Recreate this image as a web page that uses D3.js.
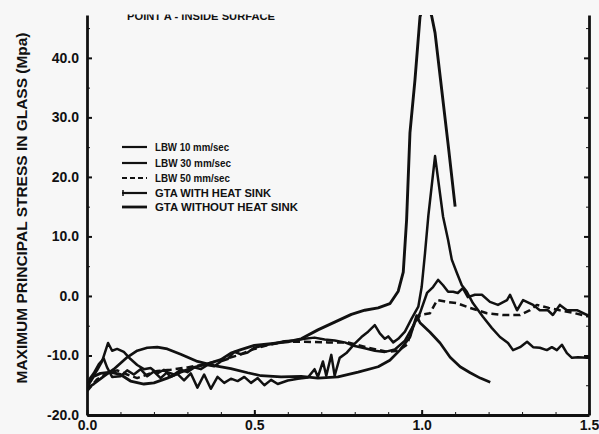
<!DOCTYPE html>
<html>
<head>
<meta charset="utf-8">
<script src="https://cdn.jsdelivr.net/npm/d3@7"></script>
<style>
  body { margin: 0; background: #f7f7f7; }
  svg { display: block; font-family: "Liberation Sans", Arial, sans-serif; }
  .axis path, .axis line { stroke: #111; }
  .axis text { font-weight: bold; font-size: 14px; fill: #111; }
</style>
</head>
<body>
<div id="chart"></div>
<script>
// legend labels
const seriesNames = ["LBW 10 mm/sec", "LBW 30 mm/sec", "LBW 50 mm/sec", "GTA WITH HEAT SINK", "GTA WITHOUT HEAT SINK"];

const xTicks = [0, 0.5, 1.0, 1.5];
const yTicks = [-20, -10, 0, 10, 20, 30, 40];

// [distance, stress] pairs
const lbw10 = [[0,-15.5],[0.02,-14.8],[0.05,-13.5],[0.08,-12.3],[0.12,-10.3],[0.15,-9.2],[0.18,-8.7],[0.21,-8.6],
  [0.24,-8.9],[0.28,-9.8],[0.33,-11.0],[0.38,-11.7],[0.43,-12.2],[0.48,-12.9],[0.52,-13.4],[0.58,-13.6],[0.64,-13.5],
  [0.69,-13.8],[0.75,-13.6],[0.81,-12.8],[0.87,-11.9],[0.905,-10.8],[0.935,-9.1],[0.965,-6.9],[0.985,-3.3],
  [0.995,-4.5],[1.025,-6.1],[1.055,-7.9],[1.085,-10.3],[1.115,-11.9],[1.145,-12.9],[1.175,-13.8],[1.205,-14.5]];

const lbw30 = [[0,-14.5],[0.02,-13],[0.035,-11.5],[0.05,-10.5],[0.06,-12],[0.075,-13.6],[0.1,-13.5],[0.12,-12.5],
  [0.14,-13.2],[0.16,-12.3],[0.18,-13.5],[0.2,-12.7],[0.22,-13.8],[0.24,-12.8],[0.26,-13.2],[0.28,-12.4],[0.3,-12.8],
  [0.32,-12],[0.34,-12.3],[0.36,-11.6],[0.38,-11.8],[0.4,-11],[0.42,-10.6],[0.44,-9.4],[0.46,-9.8],[0.48,-9.5],
  [0.5,-8.7],[0.53,-8.3],[0.56,-8.0],[0.59,-7.6],[0.62,-7.5],[0.65,-7.2],[0.68,-7.0],[0.71,-7.3],[0.74,-7.5],
  [0.77,-7.8],[0.8,-8.4],[0.83,-8.8],[0.86,-9.2],[0.89,-9.4],[0.92,-9.0],[0.95,-7.5],[0.97,-5.5],[0.995,-2.9],
  [1.016,0.5],[1.034,1.5],[1.049,2.7],[1.064,1.8],[1.079,0.7],[1.094,0.7],[1.108,0.5],[1.123,1.3],[1.138,-0.2],
  [1.159,0.2],[1.18,0.2],[1.204,-1.0],[1.228,-1.5],[1.255,-0.7],[1.264,0.2],[1.285,-2.4],[1.303,-0.7],[1.333,-1.5],
  [1.353,-2.4],[1.377,-2.4],[1.392,-3.2],[1.413,-1.5],[1.434,-2.4],[1.464,-2.4],[1.494,-3.2],[1.5,-3.2]];

const lbw50 = [[0,-16],[0.03,-14],[0.06,-13],[0.09,-12.5],[0.12,-13.2],[0.15,-13.8],[0.18,-13.2],[0.21,-12.6],
  [0.25,-12.4],[0.3,-12.0],[0.35,-11.5],[0.4,-10.8],[0.45,-10.0],[0.49,-9.1],[0.53,-8.4],[0.59,-7.7],[0.65,-7.7],
  [0.72,-7.8],[0.78,-7.8],[0.84,-8.7],[0.9,-9.4],[0.93,-9.2],[0.956,-8.2],[0.974,-5.2],[0.995,-3.2],[1.025,-2.9],
  [1.046,-0.7],[1.076,-1.0],[1.105,-1.2],[1.144,-2.0],[1.195,-2.9],[1.243,-3.2],[1.294,-3.2],[1.324,-2.4],
  [1.344,-1.5],[1.38,-2.0],[1.413,-2.4],[1.45,-2.8],[1.494,-3.4],[1.5,-3.4]];

const gtaWith = [[0,-15.2],[0.015,-13.8],[0.03,-12.5],[0.045,-11],[0.063,-7.9],[0.075,-9.2],[0.09,-8.9],[0.11,-9.4],
  [0.13,-10.6],[0.15,-11.6],[0.17,-12.3],[0.19,-12.1],[0.21,-13],[0.23,-12.4],[0.25,-13.6],[0.27,-13.1],[0.29,-14.2],
  [0.31,-13.0],[0.33,-15.4],[0.35,-13.2],[0.37,-15.6],[0.39,-13.6],[0.41,-14.6],[0.43,-13.9],[0.45,-14.3],
  [0.47,-13.6],[0.49,-14.6],[0.51,-13.8],[0.53,-15.0],[0.55,-14.1],[0.57,-14.8],[0.6,-14.2],[0.63,-13.9],
  [0.66,-13.7],[0.68,-12.3],[0.69,-13.6],[0.705,-11.0],[0.715,-13.4],[0.73,-9.9],[0.74,-13.4],[0.755,-10.4],
  [0.775,-9.6],[0.8,-8.0],[0.82,-6.9],[0.84,-6.0],[0.86,-4.9],[0.875,-6.3],[0.89,-7.2],[0.9,-6.8],[0.915,-7.8],
  [0.93,-7.2],[0.95,-6.0],[0.97,-3.8],[0.99,-1.8],[1.0,1.5],[1.01,7.2],[1.02,13.5],[1.04,23.5],[1.064,13.3],
  [1.079,9.4],[1.09,6.1],[1.105,3.9],[1.12,1.8],[1.135,0.7],[1.153,-1.2],[1.183,-3.5],[1.21,-5.4],[1.234,-6.9],
  [1.258,-7.9],[1.273,-9.1],[1.294,-8.6],[1.315,-7.7],[1.333,-8.6],[1.353,-8.7],[1.374,-9.1],[1.389,-8.6],
  [1.404,-9.1],[1.419,-8.2],[1.434,-9.6],[1.449,-10.4],[1.467,-10.3],[1.494,-10.4],[1.5,-10.4]];

const gtaWithout = [[0,-15.3],[0.02,-13.5],[0.04,-13],[0.07,-12.8],[0.1,-13.2],[0.13,-14.3],[0.17,-14.8],[0.2,-14.6],
  [0.24,-13.8],[0.28,-12.8],[0.32,-12],[0.36,-11.4],[0.4,-10.7],[0.43,-9.6],[0.46,-9],[0.5,-8.3],[0.55,-8],
  [0.6,-7.7],[0.64,-7.2],[0.69,-5.7],[0.74,-4.4],[0.79,-3.1],[0.83,-2.4],[0.87,-2.0],[0.905,-1.3],[0.93,0.8],
  [0.945,4],[0.955,12.8],[0.965,27.4],[0.98,36.3],[0.995,46.9],[1.013,50],[1.03,47],[1.04,44.2],[1.06,34.6],
  [1.08,25],[1.10,15]];

const width = 599, height = 434;
const margin = {top: 15, right: 10, bottom: 19, left: 87};

const svg = d3.select("#chart").append("svg")
  .attr("width", width)
  .attr("height", height);

const x = d3.scaleLinear().domain([0, 1.5]).range([margin.left, width - margin.right]);
const y = d3.scaleLinear().domain([-20, 47.2]).range([height - margin.bottom, margin.top]);

svg.append("clipPath").attr("id", "plot")
  .append("rect")
  .attr("x", margin.left).attr("y", margin.top)
  .attr("width", x(1.5) - x(0)).attr("height", y(-20) - y(47.2));

// title, top half cut off in the scan
svg.append("clipPath").attr("id", "titleClip")
  .append("rect").attr("x", 0).attr("y", 14.5).attr("width", width).attr("height", 20);
svg.append("text")
  .attr("clip-path", "url(#titleClip)")
  .attr("x", 127).attr("y", 19.5)
  .attr("textLength", 148).attr("lengthAdjust", "spacingAndGlyphs")
  .style("font-size", "10px").style("font-weight", "bold").attr("fill", "#111")
  .text("POINT A - INSIDE SURFACE");

// axes
const fmt = d => d.toFixed(1);
svg.append("g").attr("class", "axis")
  .attr("transform", `translate(${margin.left},0)`)
  .call(d3.axisLeft(y).tickValues(yTicks).tickFormat(fmt).tickSize(-5).tickSizeOuter(0).tickPadding(8))
  .call(g => g.select(".domain").attr("stroke-width", 2.8))
  .call(g => g.selectAll(".tick line").attr("stroke-width", 2));
svg.append("g").attr("class", "axis")
  .attr("transform", `translate(${margin.left},0)`)
  .call(d3.axisLeft(y).tickValues(d3.range(-15, 46, 10)).tickFormat("").tickSize(-3).tickSizeOuter(0))
  .call(g => g.select(".domain").remove());

svg.append("g").attr("class", "axis")
  .attr("transform", `translate(${x(1.5)},0)`)
  .call(d3.axisRight(y).tickValues(yTicks).tickFormat("").tickSize(-5).tickSizeOuter(0))
  .call(g => g.select(".domain").attr("stroke-width", 2.8))
  .call(g => g.selectAll(".tick line").attr("stroke-width", 2));
svg.append("g").attr("class", "axis")
  .attr("transform", `translate(${x(1.5)},0)`)
  .call(d3.axisRight(y).tickValues(d3.range(-15, 46, 10)).tickFormat("").tickSize(-3).tickSizeOuter(0))
  .call(g => g.select(".domain").remove());

svg.append("g").attr("class", "axis")
  .attr("transform", `translate(0,${y(-20)})`)
  .call(d3.axisBottom(x).tickValues(xTicks).tickFormat(fmt).tickSize(-5).tickSizeOuter(0).tickPadding(5))
  .call(g => g.select(".domain").attr("stroke-width", 2.8))
  .call(g => g.selectAll(".tick line").attr("stroke-width", 2));
svg.append("g").attr("class", "axis")
  .attr("transform", `translate(0,${y(-20)})`)
  .call(d3.axisBottom(x).tickValues(d3.range(0.1, 1.5, 0.1)).tickFormat("").tickSize(-3).tickSizeOuter(0))
  .call(g => g.select(".domain").remove());

// y axis title
svg.append("text")
  .attr("transform", `translate(27,${208}) rotate(-90)`)
  .attr("text-anchor", "middle")
  .attr("textLength", 351).attr("lengthAdjust", "spacingAndGlyphs")
  .style("font-size", "15px").style("font-weight", "bold").attr("fill", "#111")
  .text("MAXIMUM PRINCIPAL STRESS IN GLASS (Mpa)");

// curves
const line = d3.line().x(d => x(d[0])).y(d => y(d[1]));
const series = [
  {data: lbw10, dash: null, w: 2.7},
  {data: lbw30, dash: null, w: 2.5},
  {data: lbw50, dash: "7,4", w: 2.5},
  {data: gtaWith, dash: null, w: 2.5},
  {data: gtaWithout, dash: null, w: 2.9}
];

svg.append("g").attr("clip-path", "url(#plot)")
  .selectAll("path")
  .data(series)
  .join("path")
  .attr("d", d => line(d.data))
  .attr("fill", "none")
  .attr("stroke", "#111")
  .attr("stroke-width", d => d.w)
  .attr("stroke-linejoin", "round")
  .attr("stroke-dasharray", d => d.dash);

// legend
const legend = svg.append("g").attr("transform", "translate(122,147)");
const rows = legend.selectAll("g")
  .data(seriesNames)
  .join("g")
  .attr("transform", (d, i) => `translate(0,${[0, 16, 31, 46, 60][i]})`);
rows.append("line")
  .attr("x1", 0).attr("x2", 25)
  .attr("stroke", "#111")
  .attr("stroke-width", (d, i) => i === 4 ? 2.8 : 2.2)
  .attr("stroke-dasharray", (d, i) => i === 2 ? "5,3" : null);
rows.filter((d, i) => i === 3).append("line")
  .attr("x1", 1).attr("x2", 1).attr("y1", -3).attr("y2", 3)
  .attr("stroke", "#111").attr("stroke-width", 1.5);
rows.append("text")
  .attr("x", 33).attr("y", 4)
  .attr("textLength", (d, i) => [74, 76, 75, 116, 143][i]).attr("lengthAdjust", "spacingAndGlyphs")
  .style("font-size", "10.5px").style("font-weight", "bold").attr("fill", "#111")
  .text(d => d);
</script>
</body>
</html>
